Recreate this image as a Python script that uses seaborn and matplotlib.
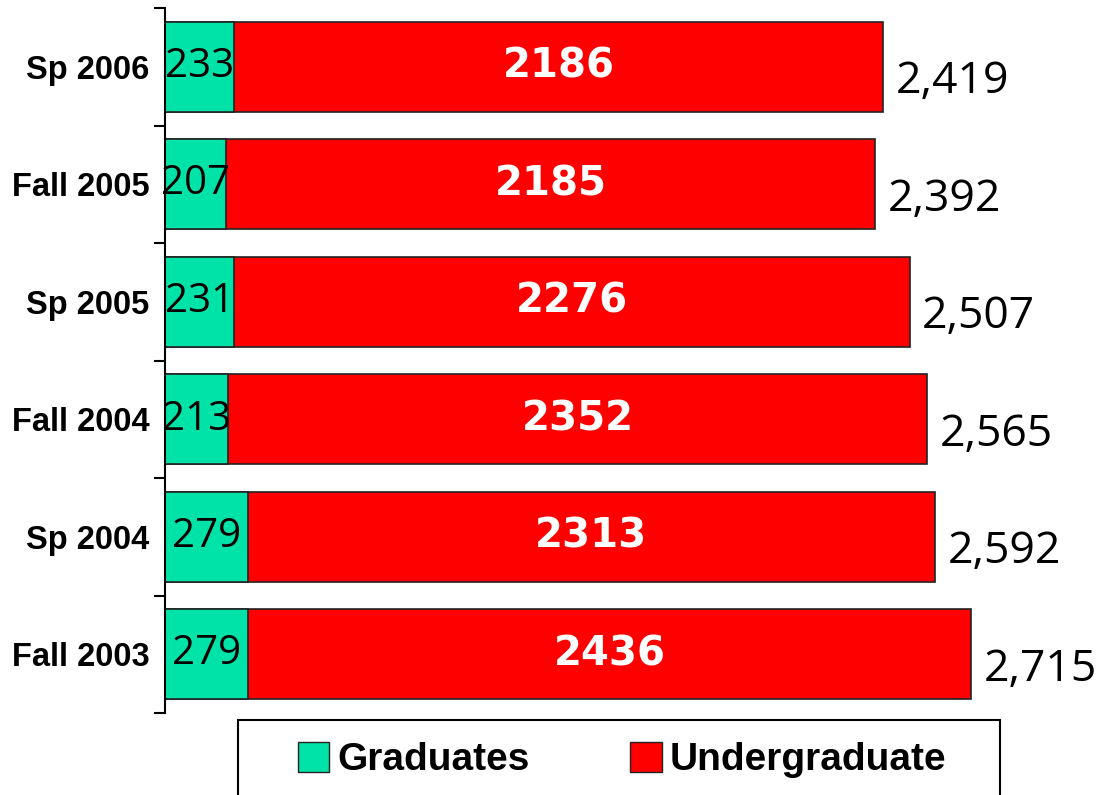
import numpy as np
import pandas as pd
import matplotlib
matplotlib.use("Agg")
import matplotlib.pyplot as plt
from matplotlib.patches import Patch, Rectangle
from matplotlib.ticker import FixedLocator
import seaborn as sns

# ---------------------------------------------------------------
# Data
# ---------------------------------------------------------------
terms = ["Sp 2006", "Fall 2005", "Sp 2005", "Fall 2004", "Sp 2004", "Fall 2003"]
graduates = [233, 207, 231, 213, 279, 279]
undergrad = [2186, 2185, 2276, 2352, 2313, 2436]
total_labels = ["2,419", "2,392", "2,507", "2,565", "2,592", "2,715"]

GREEN = "#00E3A8"
RED = "#FF0000"

df = pd.DataFrame({"Term": terms, "Graduates": graduates, "Undergraduate": undergrad})
df["Total"] = df["Graduates"] + df["Undergraduate"]

sns.set_style("white")
plt.rcParams["font.family"] = ["Liberation Sans", "DejaVu Sans"]
plt.rcParams["text.color"] = "black"
plt.rcParams["ytick.color"] = "black"
plt.rcParams["ytick.labelcolor"] = "black"

fig = plt.figure(figsize=(11.02, 7.95), dpi=100)
ax = fig.add_axes([165 / 1102, 1 - 713 / 795, 1 - 165 / 1102, (713 - 8) / 795])

# full bar in red, graduates drawn over it in green -> stacked look
sns.barplot(data=df, y="Term", x="Total", color=RED, orient="h", width=0.77,
            edgecolor="#222222", linewidth=1.2, saturation=1, ax=ax)
sns.barplot(data=df, y="Term", x="Graduates", color=GREEN, orient="h", width=0.77,
            edgecolor="#222222", linewidth=1.2, saturation=1, ax=ax)

ax.set_xlim(0, 3155)
ax.set_ylim(5.5, -0.5)
ax.set_xlabel("")
ax.set_ylabel("")

# value labels
ax.bar_label(ax.containers[1], labels=[str(g) for g in graduates], label_type="center",
             fontsize=29, family="Open Sans", color="black")
for i, (g, u) in enumerate(zip(graduates, undergrad)):
    ax.text(g + u / 2, i, str(u), ha="center", va="center", color="white",
            fontsize=29, fontweight="bold", family="DejaVu Sans")
for i, (t, lbl) in enumerate(zip(df["Total"], total_labels)):
    ax.annotate(lbl, (t, i), xytext=(9, -11), textcoords="offset points",
                ha="left", va="center", fontsize=32, family="Open Sans",
                color="black", annotation_clip=False)

# axis styling: only left spine, ticks between categories
sns.despine(ax=ax, top=True, right=True, bottom=True, left=False)
ax.spines["left"].set_color("black")
ax.spines["left"].set_linewidth(1.5)
ax.set_xticks([])
ax.yaxis.set_minor_locator(FixedLocator(np.arange(-0.5, 6, 1)))
ax.tick_params(axis="y", which="major", length=0, pad=11,
               labelsize=23.5, labelcolor="black")
ax.tick_params(axis="y", which="minor", left=True, length=8, width=1.5,
               color="black", direction="out")
for lab in ax.get_yticklabels():
    lab.set_fontweight("bold")

# legend with a plain rectangular box running off the bottom edge
handles = [Patch(facecolor=GREEN, edgecolor="#222222", label="Graduates"),
           Patch(facecolor=RED, edgecolor="#222222", label="Undergraduate")]
fig.legend(handles=handles, loc="center", bbox_to_anchor=(622 / 1102, 1 - 760 / 795),
           ncol=2, frameon=False, prop={"size": 28, "weight": "bold"},
           handlelength=0.8, handleheight=0.8, handletextpad=0.2, columnspacing=2.6,
           labelcolor="black")
fig.add_artist(Rectangle((238 / 1102, -0.05), (1000 - 238) / 1102, (795 - 720) / 795 + 0.05,
                         transform=fig.transFigure, fill=False, edgecolor="black",
                         linewidth=1.5))

fig.savefig("out.png", dpi=100)
